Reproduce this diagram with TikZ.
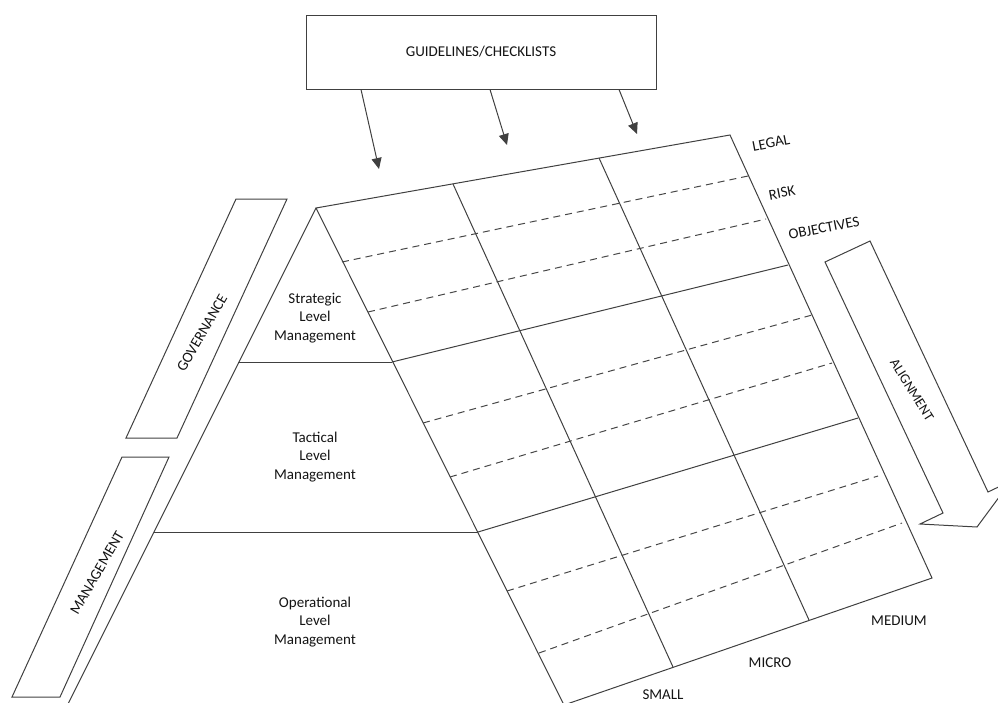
\documentclass[tikz,border=0pt]{standalone}
\usepackage{fontspec}
\setmainfont{Carlito}
\usetikzlibrary{arrows.meta}
\begin{document}
\begin{tikzpicture}[x=1pt,y=-1pt,
  edge/.style={draw=black!75, line width=1pt},
  dashline/.style={draw=black!72, line width=1pt, dash pattern=on 7pt off 5pt},
  lbl/.style={inner sep=0pt, text=black!92, font=\fontsize{15pt}{18.3pt}\selectfont, align=center},
  flow/.style={edge, -{Triangle[length=11pt,width=10pt]}},
  guidebox/.style={edge, fill=white, minimum width=350pt, minimum height=74pt, inner sep=0pt, lbl}
]
\useasboundingbox (0,0) rectangle (998,702);

% guidelines box and its three arrows
\node[guidebox] (guide) at (481,52) {GUIDELINES/CHECKLISTS};
\coordinate (g1) at (379,169);
\coordinate (g2) at (507,145);
\coordinate (g3) at (637,134);
\draw[flow] ([xshift=-120pt]guide.south) -- (g1);
\draw[flow] ([xshift=9pt]guide.south) -- (g2);
\draw[flow] ([xshift=138pt]guide.south) -- (g3);

% the grid face (corners)
\coordinate (A) at (316,208);
\coordinate (B) at (730,135);
\coordinate (C) at (932,578);
\coordinate (D) at (564,705);
\draw[edge] (A) -- (B) -- (C) -- (D) -- cycle;

% row boundaries
\coordinate (r1l) at (392,362); \coordinate (r1r) at (788,265);
\coordinate (r2l) at (478,532); \coordinate (r2r) at (858,418);
\draw[edge] (r1l) -- (r1r);
\draw[edge] (r2l) -- (r2r);

% column boundaries
\coordinate (c1t) at (453,184); \coordinate (c1b) at (673,667);
\coordinate (c2t) at (599,158); \coordinate (c2b) at (809,620);
\draw[edge] (c1t) -- (c1b);
\draw[edge] (c2t) -- (c2b);

% dashed sub-rows
\draw[dashline] (342,262) -- (748,176);
\draw[dashline] (368,312) -- (766,219);
\draw[dashline] (423,423) -- (812,315);
\draw[dashline] (450,477) -- (832,363);
\draw[dashline] (507,591) -- (878,476);
\draw[dashline] (539,653) -- (902,523);

% pyramid left side and level dividers
\coordinate (P) at (66,708);
\draw[edge] (A) -- (P);
\draw[edge] (238,362) -- (r1l);
\draw[edge] (154,532) -- (r2l);

% slanted bands
\draw[edge] (236,199) -- (287,199) -- (177,438) -- (126,438) -- cycle;
\draw[edge] (122,457) -- (169,457) -- (60,697) -- (12,697) -- cycle;

% alignment arrow
\draw[edge] (825,262) -- (870,241) -- (988,492) -- (1011,481) -- (977,527)
  -- (920,524) -- (943,513) -- cycle;

% level texts
\node[lbl] (strategic) at (315,318) {Strategic\\Level\\Management};
\node[lbl] (tactical) at (315,457) {Tactical\\Level\\Management};
\node[lbl] (operational) at (315,622) {Operational\\Level\\Management};

% band texts
\node[lbl, rotate=60] (gov) at (202,333) {GOVERNANCE};
\node[lbl, rotate=60] (man) at (97,573) {MANAGEMENT};
\node[lbl, rotate=-58, font=\fontsize{14pt}{17pt}\selectfont] (align) at (912,390) {ALIGNMENT};

% row labels
\node[lbl, rotate=11] (legal) at (771,143) {LEGAL};
\node[lbl, rotate=11] (risk) at (782,193) {RISK};
\node[lbl, rotate=11] (obj) at (824,228) {OBJECTIVES};

% column labels
\node[lbl] (small) at (663,695) {SMALL};
\node[lbl] (micro) at (770,663) {MICRO};
\node[lbl] (medium) at (899,621) {MEDIUM};
\end{tikzpicture}
\end{document}
